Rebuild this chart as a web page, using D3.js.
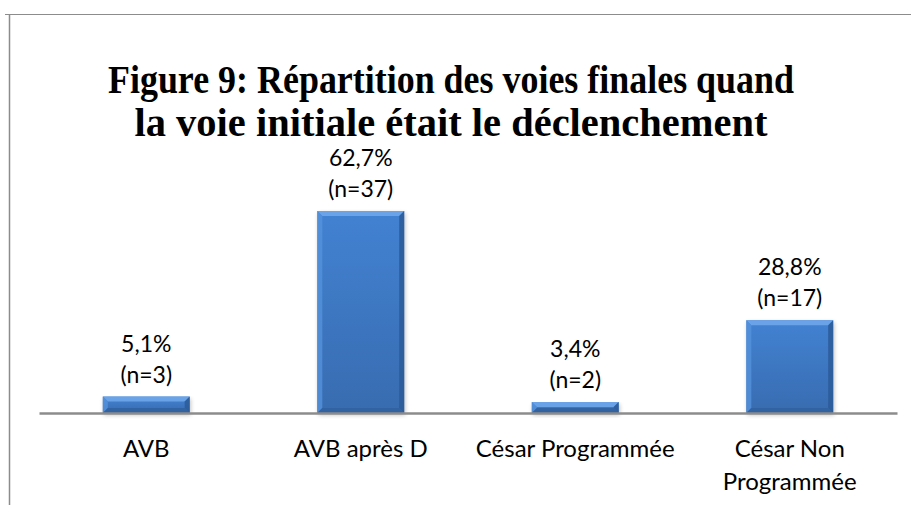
<!DOCTYPE html>
<html>
<head>
<meta charset="utf-8">
<script src="https://cdn.jsdelivr.net/npm/d3@7"></script>
<style>
  body { margin: 0; background: #fff; }
</style>
</head>
<body>
<script>
var categories = [['AVB'], ['AVB après D'], ['César Programmée'], ['César Non', 'Programmée']];
var percents = [5.1, 62.7, 3.4, 28.8];
var counts = [3, 37, 2, 17];
var titleLines = ['Figure 9: Répartition des voies finales quand', 'la voie initiale était le déclenchement'];

var W = 911, H = 505;
var svg = d3.select('body').append('svg').attr('width', W).attr('height', H);

var defs = svg.append('defs');
var grad = defs.append('linearGradient').attr('id', 'barFill').attr('x1', 0).attr('y1', 0).attr('x2', 0).attr('y2', 1);
grad.append('stop').attr('offset', '0%').attr('stop-color', '#4282d2');
grad.append('stop').attr('offset', '100%').attr('stop-color', '#386cb0');
var blur = defs.append('filter').attr('id', 'shadow').attr('x', '-10%').attr('y', '-10%').attr('width', '130%').attr('height', '130%');
blur.append('feGaussianBlur').attr('stdDeviation', 2);

// chart frame
svg.append('line').attr('x1', 5).attr('x2', W).attr('y1', 14.5).attr('y2', 14.5)
    .attr('stroke', '#8c8c8c').attr('stroke-width', 1);
svg.append('line').attr('x1', 9.5).attr('x2', 9.5).attr('y1', 14).attr('y2', H)
    .attr('stroke', '#8c8c8c').attr('stroke-width', 1.5);

// title (condensed serif, as in the original)
var titleWidths = [686, 633];
svg.append('g').selectAll('text').data(titleLines).enter().append('text')
    .attr('x', 451).attr('y', function(d, i){ return 93 + i * 43; })
    .attr('text-anchor', 'middle')
    .attr('textLength', function(d, i){ return titleWidths[i]; })
    .attr('lengthAdjust', 'spacingAndGlyphs')
    .style('font-family', '"Liberation Serif", "Times New Roman", serif')
    .style('font-weight', 'bold').style('font-size', '41px').style('fill', '#000')
    .text(function(d){ return d; });

var x = d3.scaleBand().domain(d3.range(categories.length)).range([39, 897]).paddingInner(0.595).paddingOuter(0.2975);
var y = d3.scaleLinear().domain([0, 62.7]).range([413, 211]);

var bw = x.bandwidth(), bev = 5;
var bars = svg.append('g').selectAll('g').data(percents).enter().append('g')
    .attr('transform', function(d, i){ return 'translate(' + x(i) + ',' + y(d) + ')'; });

bars.append('rect').attr('x', 1).attr('y', 2).attr('width', bw).attr('height', function(d){ return y(0) - y(d); })
    .attr('fill', '#000').attr('opacity', 0.25).attr('filter', 'url(#shadow)');
bars.append('rect').attr('width', bw).attr('height', function(d){ return y(0) - y(d); }).attr('fill', 'url(#barFill)');
// bevel edges
bars.append('path').attr('fill', '#6fa6ea').attr('opacity', 0.9)
    .attr('d', function(d){ var h = y(0) - y(d), b = Math.min(bev, h / 2);
        return 'M0,0L' + bw + ',0L' + (bw - b) + ',' + b + 'L' + b + ',' + b + 'Z'; });
bars.append('path').attr('fill', '#5592dc').attr('opacity', 0.8)
    .attr('d', function(d){ var h = y(0) - y(d), b = Math.min(bev, h / 2);
        return 'M0,0L' + b + ',' + b + 'L' + b + ',' + (h - b) + 'L0,' + h + 'Z'; });
bars.append('path').attr('fill', '#2b5a98').attr('opacity', 0.85)
    .attr('d', function(d){ var h = y(0) - y(d), b = Math.min(bev, h / 2);
        return 'M' + bw + ',0L' + bw + ',' + h + 'L' + (bw - b) + ',' + (h - b) + 'L' + (bw - b) + ',' + b + 'Z'; });
bars.append('path').attr('fill', '#30609f').attr('opacity', 0.85)
    .attr('d', function(d){ var h = y(0) - y(d), b = Math.min(bev, h / 2);
        return 'M0,' + h + 'L' + b + ',' + (h - b) + 'L' + (bw - b) + ',' + (h - b) + 'L' + bw + ',' + h + 'Z'; });

// axis baseline
var axis = svg.append('g').attr('transform', 'translate(0,' + y(0) + ')')
    .call(d3.axisBottom(x).tickSize(0).tickFormat(''));
axis.select('.domain').attr('stroke', '#8c8c8c').attr('stroke-width', 2.5);

var font = 'Lato, "Open Sans", sans-serif';

// data labels
var fmt = function(v){ return v.toFixed(1).replace('.', ',') + '%'; };
var lab = svg.append('g').selectAll('text').data(percents).enter().append('text')
    .attr('text-anchor', 'middle')
    .attr('x', function(d, i){ return x(i) + bw / 2; })
    .attr('y', function(d){ return y(d) - 45; })
    .style('font-family', font).style('font-size', '23px').style('fill', '#000');
lab.append('tspan').text(function(d){ return fmt(d); });
lab.append('tspan').attr('x', function(d, i){ return x(i) + bw / 2; }).attr('dy', 31)
    .text(function(d, i){ return '(n=' + counts[i] + ')'; });

// category labels
var cat = svg.append('g').selectAll('text').data(categories).enter().append('text')
    .attr('text-anchor', 'middle')
    .attr('y', 457)
    .style('font-family', font).style('font-size', '24px').style('fill', '#000');
cat.selectAll('tspan').data(function(d, i){ return d.map(function(t){ return {t: t, i: i}; }); }).enter().append('tspan')
    .attr('x', function(d){ return x(d.i) + bw / 2; })
    .attr('dy', function(d, j){ return j ? 33 : 0; })
    .text(function(d){ return d.t; });
</script>
</body>
</html>
